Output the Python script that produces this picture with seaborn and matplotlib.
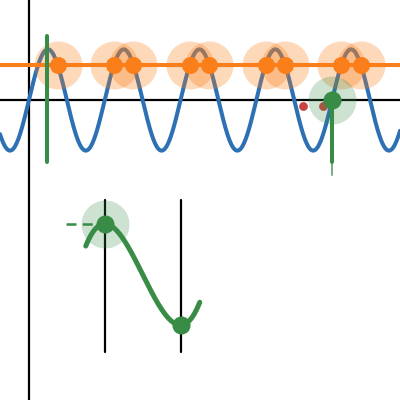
import numpy as np
import matplotlib
matplotlib.use("Agg")
import matplotlib.pyplot as plt
import seaborn as sns

# Desmos-like palette
BLUE = "#2d70b3"
ORANGE = "#fa7e19"
GREEN = "#388c46"
RED = "#c74440"

# graph window (math units)
x_min, x_max = -2.40, 30.76
y_min, y_max = -24.88, 8.29

# sine curve y = amp * sin(x)
amp = 4.2
# orange horizontal line
orange_y = 2.93
orange_x = [2.38, 7.05, 8.66, 13.33, 14.95, 19.61, 21.23, 25.89, 27.51]

# green point on the x axis and its vertical line
green_pt_x = [25.13]
green_pt_y = [0.0]
green_left_x = [1.47, 1.47]
green_left_y = [5.30, -5.14]
green_drop_x = [25.13, 25.13]
green_drop_y = [0.0, -5.14]
green_tail_x = [25.13, 25.13]
green_tail_y = [-5.30, -6.22]

# small red marks near the x axis
red_x = [22.72, 24.38]
red_y = [-0.50, -0.50]

# lower part: cubic with max at 2pi and min at 4pi
cubic_center = -14.47
cubic_x = [4.71, 14.16]
extreme_x = [6.28, 12.57]
extreme_y = [-10.28, -18.66]
guide_x = [6.28, 12.57]
guide_y = [-8.29, -20.90]
dash_x = [3.07, 6.10]
dash_y = [-10.28, -10.28]


def vline(x, y, **kw):
    sns.lineplot(x=x, y=y, ax=ax, sort=False, estimator=None, **kw)


sns.set_style("white")
fig = plt.figure(figsize=(4, 4), dpi=100)
ax = fig.add_axes([0, 0, 1, 1])
ax.set_xlim(x_min, x_max)
ax.set_ylim(y_min, y_max)
ax.axis("off")

# axes
ax.axhline(0, color="black", lw=1.6, zorder=1)
ax.axvline(0, color="black", lw=1.6, zorder=1)

# sine
xs = np.linspace(x_min, x_max, 800)
sns.lineplot(x=xs, y=amp * np.sin(xs), ax=ax, color=BLUE, lw=2.9, zorder=2)

# orange line + points with halos
ax.axhline(orange_y, color=ORANGE, lw=2.9, zorder=3)
sns.scatterplot(x=orange_x, y=[orange_y] * len(orange_x), ax=ax, s=1190,
                color=ORANGE, alpha=0.3, linewidth=0, zorder=4)
sns.scatterplot(x=orange_x, y=[orange_y] * len(orange_x), ax=ax, s=150,
                color=ORANGE, linewidth=0, zorder=5)

# green lines/point at top
vline(green_left_x, green_left_y, color=GREEN, lw=2.9, zorder=6,
      solid_capstyle="round")
vline(green_drop_x, green_drop_y, color=GREEN, lw=2.9, zorder=6,
      solid_capstyle="round")
vline(green_tail_x, green_tail_y, color=GREEN, lw=1.4, alpha=0.7, zorder=6)
sns.scatterplot(x=green_pt_x, y=green_pt_y, ax=ax, s=1190, color=GREEN,
                alpha=0.25, linewidth=0, zorder=5)
sns.scatterplot(x=green_pt_x, y=green_pt_y, ax=ax, s=170, color=GREEN,
                linewidth=0, zorder=7)

# red marks
sns.scatterplot(x=red_x, y=red_y, ax=ax, s=40, color=RED, marker="o",
                linewidth=0, zorder=4)

# lower part
for gx in guide_x:
    vline([gx, gx], guide_y, color="black", lw=1.6, zorder=1)
h = np.pi
a = 1.5 * amp / h ** 3
cx = np.linspace(cubic_x[0], cubic_x[1], 300)
u = cx - 3 * np.pi
sns.lineplot(x=cx, y=cubic_center + a * (u ** 3 / 3 - h ** 2 * u), ax=ax,
             color=GREEN, lw=3.6, zorder=3, solid_capstyle="round")
ax.plot(dash_x, dash_y, color=GREEN, lw=1.8, ls=(0, (4, 2.5)), zorder=3)
sns.scatterplot(x=extreme_x[:1], y=extreme_y[:1], ax=ax, s=1190, color=GREEN,
                alpha=0.25, linewidth=0, zorder=2)
sns.scatterplot(x=extreme_x, y=extreme_y, ax=ax, s=170, color=GREEN,
                linewidth=0, zorder=7)

fig.savefig("out.png", dpi=100)
